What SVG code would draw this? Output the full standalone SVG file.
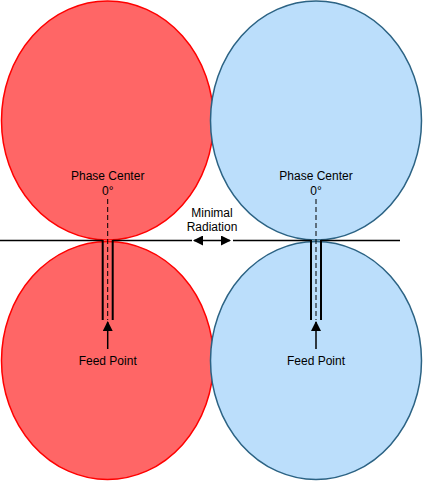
<svg xmlns="http://www.w3.org/2000/svg" width="424" height="481" viewBox="0 0 424 481">
<style>
.red{fill:#FF6666;stroke:#FF0000;stroke-width:1.5}
.blue{fill:#BBDEFB;stroke:#2C6384;stroke-width:1.5}
.ln{fill:none;stroke:#000;stroke-width:1.5}
.feed{fill:none;stroke:#000;stroke-width:2}
.dash{fill:none;stroke:#000;stroke-width:1;stroke-dasharray:5 3}
text{font-family:"Liberation Sans",Arial,sans-serif;font-size:12px;fill:#000;text-anchor:middle}
</style>
<defs>
<marker id="ah" viewBox="0 0 10 10" refX="9" refY="5" markerWidth="10" markerHeight="10" markerUnits="userSpaceOnUse" orient="auto-start-reverse">
<path d="M0,0 L10,5 L0,10 Z" fill="#000"/>
</marker>
</defs>
<g id="red-top-lobe"><ellipse class="red" cx="107.5" cy="120.5" rx="106" ry="119.5"/></g>
<g id="red-bottom-lobe"><ellipse class="red" cx="107.5" cy="360.5" rx="106" ry="119"/></g>
<g id="blue-top-lobe"><ellipse class="blue" cx="316" cy="120.5" rx="105.5" ry="119.5"/></g>
<g id="blue-bottom-lobe"><ellipse class="blue" cx="316" cy="360.5" rx="105.5" ry="119"/></g>
<g id="connectors">
<path class="ln" d="M0,240.5 H102.7"/>
<path class="ln" d="M112.7,240.5 H192"/>
<path class="ln" d="M233,240.5 H311"/>
<path class="ln" d="M321,240.5 H400"/>
<path class="feed" d="M102.7,240 V320 M112.7,240 V320"/>
<path class="feed" d="M311,240 V320 M321,240 V320"/>
<path class="dash" d="M107.7,199 V320"/>
<path class="dash" d="M316,199 V320"/>
<path class="ln" d="M107.7,349 V322" marker-end="url(#ah)"/>
<path class="ln" d="M316,349 V322" marker-end="url(#ah)"/>
<path class="ln" d="M194,240.5 H230" marker-start="url(#ah)" marker-end="url(#ah)"/>
</g>
<g id="left-labels">
<text x="107.7" y="179.5">Phase Center</text>
<text x="107.7" y="195">0°</text>
<text x="107.7" y="364.5">Feed Point</text>
</g>
<g id="right-labels">
<text x="316" y="179.5">Phase Center</text>
<text x="316" y="195">0°</text>
<text x="316" y="364.5">Feed Point</text>
</g>
<g id="minimal-radiation">
<text x="212" y="217">Minimal</text>
<text x="212" y="231">Radiation</text>
</g>
</svg>
